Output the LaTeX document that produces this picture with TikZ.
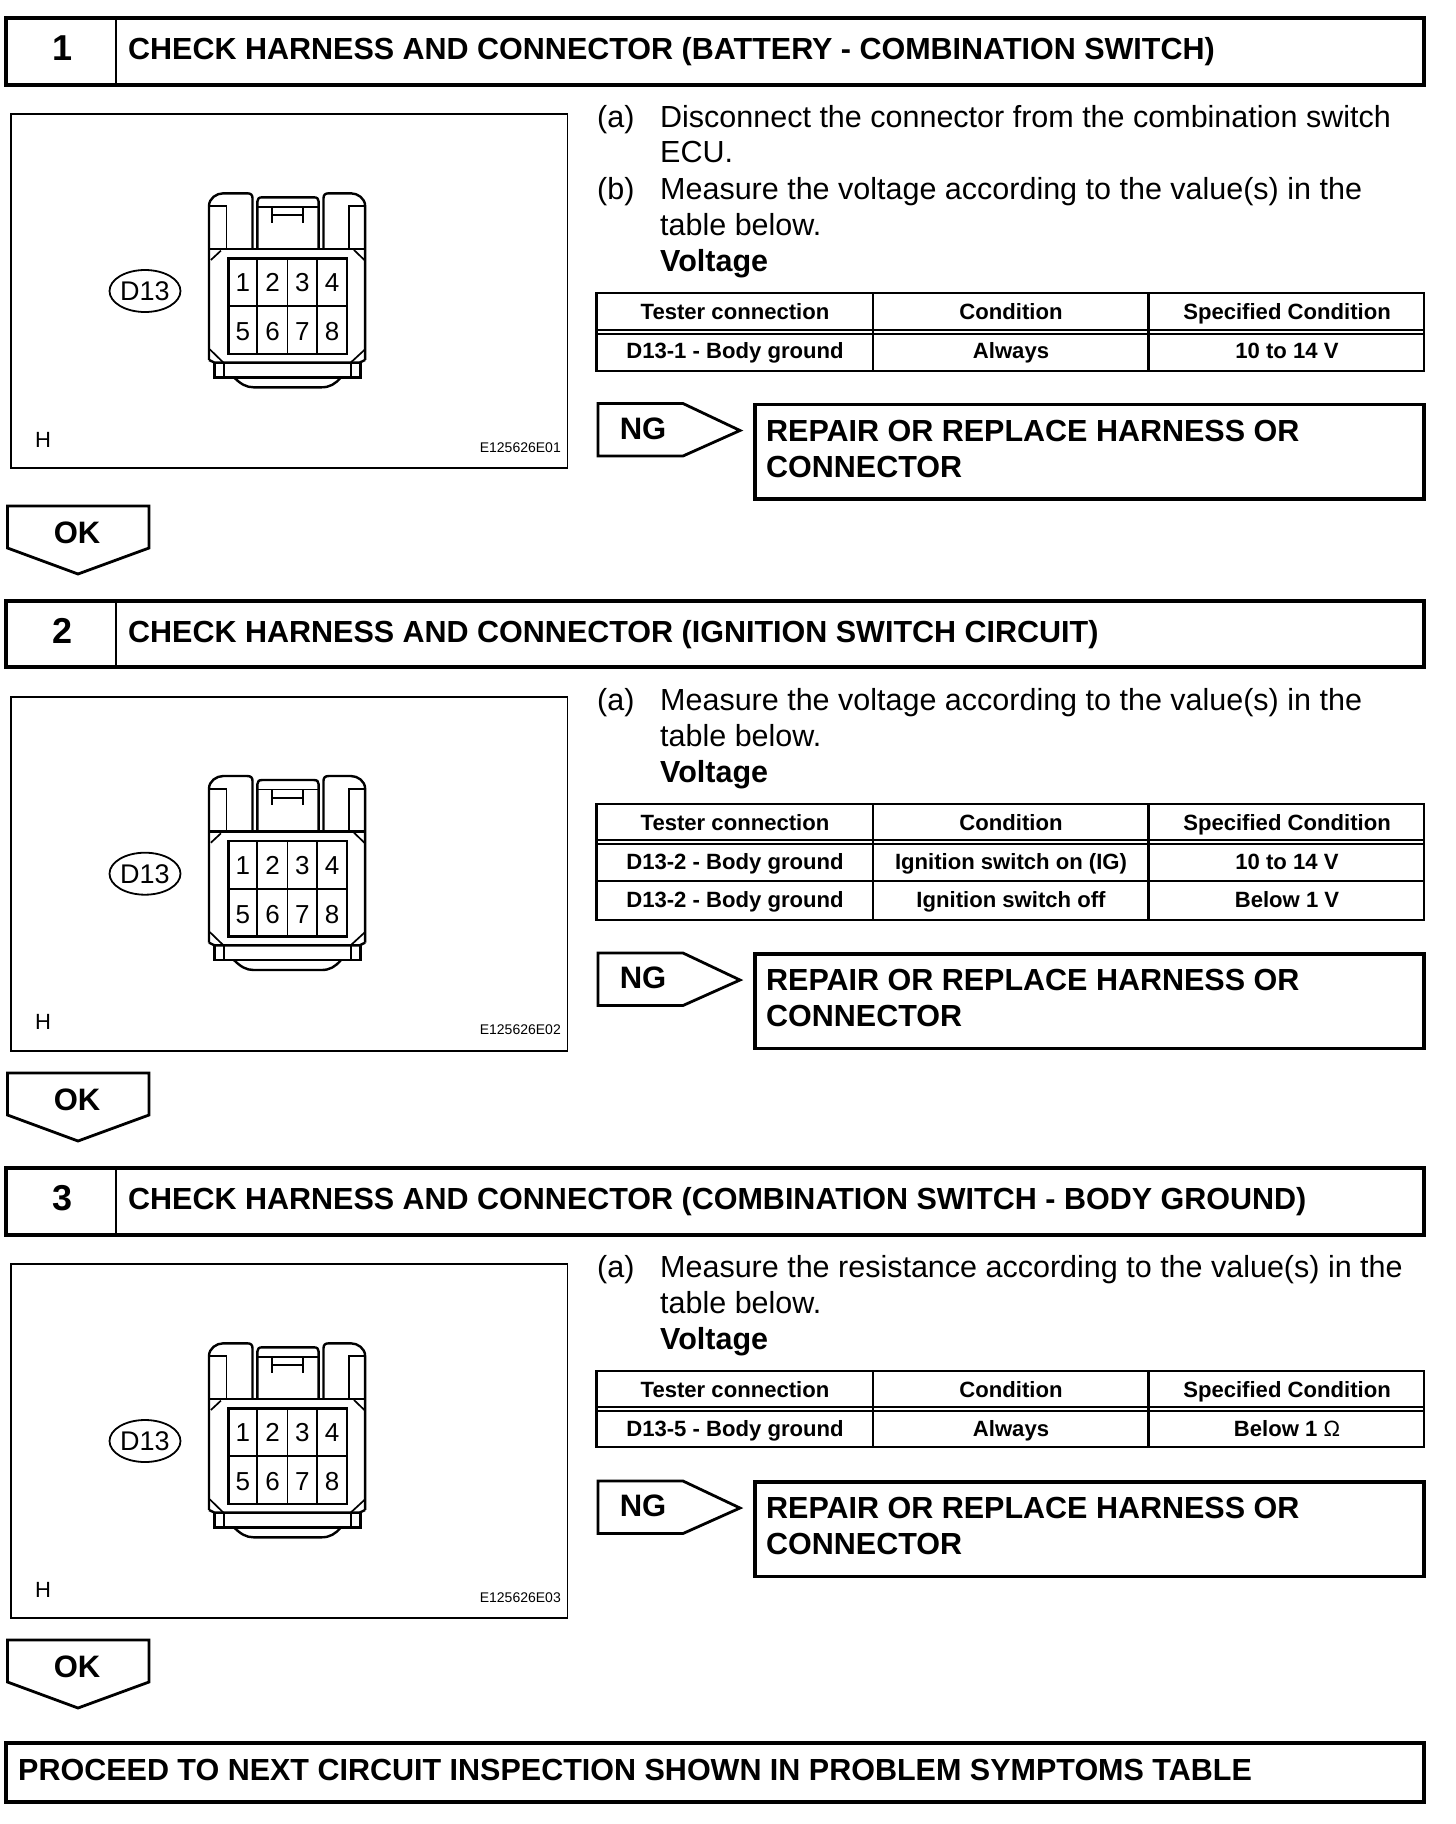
\documentclass[tikz,border=0pt]{standalone}
\usepackage{fontspec}
\setmainfont{Liberation Sans}
\usetikzlibrary{shapes.geometric}
\newcommand{\fsz}[1]{\fontsize{#1}{#1}\selectfont}
\tikzset{
  heavy/.style={draw=black,line width=3.6pt,fill=white},
  medium/.style={draw=black,line width=2.4pt,line join=miter},
  thinl/.style={draw=black,line width=1.7pt},
  hdrtext/.style={inner sep=0pt,anchor=base west,font=\fsz{30.5}\bfseries},
  numtext/.style={inner sep=0pt,anchor=base,font=\fsz{36}\bfseries},
  bodytext/.style={inner sep=0pt,anchor=base west,font=\fsz{30.5}},
  boldbody/.style={inner sep=0pt,anchor=base west,font=\fsz{30.5}\bfseries},
  celltext/.style={inner sep=0pt,anchor=base,font=\fsz{22.1}\bfseries},
  flagtext/.style={inner sep=0pt,anchor=base,font=\fsz{31}\bfseries},
  digit/.style={inner sep=0pt,anchor=base,font=\fsz{26}},
  tagtext/.style={draw=black,line width=1.8pt,ellipse,minimum width=71pt,minimum height=42pt,inner sep=0pt,font=\fsz{27}},
  hlabel/.style={inner sep=0pt,anchor=base,font=\fsz{22}},
  code/.style={inner sep=0pt,anchor=base east,font=\fsz{14}},
}
% id, top, bottom, number, title
\newcommand{\hdrbar}[5]{%
  \path[heavy] (6,#2) rectangle (1424,#3);
  \draw[medium] (116,#2) -- (116,#3);
  \node[numtext] (#1num) at (62.5,#2+42) {#4};
  \node[hdrtext] (#1title) at (128,#2+41) {#5};
}
% id, y offset, code
\newcommand{\figbox}[3]{%
  \begin{scope}[yshift=-#2pt]
  \draw[thinl] (11,114) rectangle (567.5,468);
  \node[tagtext] (#1tag) at (145,291) {D13};
  \node[hlabel] (#1h) at (43,447) {H};
  \node[code] (#1code) at (561,452) {#3};
  \begin{scope}[xshift=-1pt,yshift=-100pt,x=0.3717pt,y=-0.3333pt]
    \draw[medium,line join=round] (565,780) -- (565,318) .. controls (565,295) and (585,280) .. (603,280) -- (668,280) .. controls (678,280) and (682,285) .. (682,295) -- (682,447);
    \draw[medium,line join=round] (985,780) -- (985,318) .. controls (985,295) and (965,280) .. (947,280) -- (887,280) .. controls (877,280) and (873,285) .. (873,295) -- (873,447);
    \draw[medium,line join=round] (695,447) -- (695,305) .. controls (695,296) and (699,292) .. (708,292) -- (847,292) .. controls (856,292) and (860,296) .. (860,305) -- (860,447);
    \draw[thinl] (565,318) -- (612,318) -- (612,447);
    \draw[thinl] (985,318) -- (942,318) -- (942,447);
    \draw[thinl] (697,320) -- (858,320);
    \draw[thinl] (735,322) -- (735,368) (818,322) -- (818,368) (735,345) -- (818,345);
    \draw[medium] (565,447) -- (985,447);
    \draw[thinl] (570,480) -- (597,452) (955,450) -- (983,480);
    \draw[thinl] (567,748) -- (603,787) (985,748) -- (947,787);
    \draw[medium] (565,780) -- (580,788) -- (970,788) -- (985,780);
    \draw[medium] (580,788) -- (580,832) -- (972,832) -- (972,788);
    \draw[thinl] (605,788) -- (605,832) (947,788) -- (947,832);
    \draw[medium,line join=round] (632,832) .. controls (650,852) and (665,862) .. (685,862) -- (868,862) .. controls (890,862) and (905,852) .. (920,832);
    \draw[medium] (617,475) rectangle (937,762);
    \draw[thinl] (695,475) -- (695,762) (776,475) -- (776,762) (856,475) -- (856,762) (617,618) -- (937,618);
    \foreach \n/\cx/\cy in {1/656/574,2/736/574,3/816/574,4/896/574,5/656/721,6/736/721,7/816/721,8/896/721}
      \node[digit] (#1d\n) at (\cx,\cy) {\n};
  \end{scope}
  \end{scope}
}
% id, y offset of flag
\newcommand{\ngbox}[2]{%
  \begin{scope}[yshift=-#2pt]
  \path[heavy,line width=2.8pt,line join=miter] (598,403.5) -- (683,403.5) -- (740,430.5) -- (683,456) -- (598,456) -- cycle;
  \node[flagtext] (#1ng) at (643,439) {NG};
  \path[heavy] (755,404.5) rectangle (1424,499);
  \node[boldbody] (#1fix) at (766,441) {REPAIR OR REPLACE HARNESS OR};
  \node[boldbody] (#1fixb) at (766,477) {CONNECTOR};
  \end{scope}
}
% id, y offset
\newcommand{\okbox}[2]{%
  \begin{scope}[yshift=-#2pt]
  \path[heavy,line width=2.8pt,line join=miter] (7.5,506) -- (149,506) -- (149,548) -- (78,574) -- (7.5,548) -- cycle;
  \node[flagtext] (#1ok) at (77,543) {OK};
  \end{scope}
}
% table frame: top, head-bottom, bottom
\newcommand{\tabframe}[3]{%
  \draw[medium] (596.5,#1) rectangle (1424,#3);
  \draw[medium] (873,#1) -- (873,#3) (1148.5,#1) -- (1148.5,#3);
  \draw[line width=1.6pt] (596.5,#2-2) -- (1424,#2-2) (596.5,#2+2) -- (1424,#2+2);
}
% id, baseline, three cells
\newcommand{\tabrow}[5]{%
  \node[celltext] (#1a) at (735,#2) {#3};
  \node[celltext] (#1b) at (1011,#2) {#4};
  \node[celltext] (#1c) at (1287,#2) {#5};
}
\begin{document}
\begin{tikzpicture}[x=1pt,y=-1pt]
\useasboundingbox[fill=white] (0,0) rectangle (1456,1824);
% block 1
\hdrbar{a}{18}{85}{1}{CHECK HARNESS AND CONNECTOR (BATTERY - COMBINATION SWITCH)}
\figbox{a}{0}{E125626E01}
\node[bodytext] (a1) at (597,127) {(a)};
\node[bodytext] (a2) at (660,127) {Disconnect the connector from the combination switch};
\node[bodytext] (a3) at (660,162) {ECU.};
\node[bodytext] (a4) at (597,199) {(b)};
\node[bodytext] (a5) at (660,199) {Measure the voltage according to the value(s) in the};
\node[bodytext] (a6) at (660,235) {table below.};
\node[boldbody] (a7) at (660,271) {Voltage};
\tabframe{293}{332}{371}
\tabrow{ar1}{319}{Tester connection}{Condition}{Specified Condition}
\tabrow{ar2}{358}{D13-1 - Body ground}{Always}{10 to 14 V}
\ngbox{a}{0}
\okbox{a}{0}
% block 2
\hdrbar{b}{601}{667}{2}{CHECK HARNESS AND CONNECTOR (IGNITION SWITCH CIRCUIT)}
\figbox{b}{582.7}{E125626E02}
\node[bodytext] (b1) at (597,710) {(a)};
\node[bodytext] (b2) at (660,710) {Measure the voltage according to the value(s) in the};
\node[bodytext] (b3) at (660,746) {table below.};
\node[boldbody] (b4) at (660,782) {Voltage};
\tabframe{804}{842}{920}
\draw[medium] (596.5,881) -- (1424,881);
\tabrow{br1}{830}{Tester connection}{Condition}{Specified Condition}
\tabrow{br2}{869}{D13-2 - Body ground}{Ignition switch on (IG)}{10 to 14 V}
\tabrow{br3}{907}{D13-2 - Body ground}{Ignition switch off}{Below 1 V}
\ngbox{b}{549.5}
\okbox{b}{567}
% block 3
\hdrbar{c}{1168}{1235}{3}{CHECK HARNESS AND CONNECTOR (COMBINATION SWITCH - BODY GROUND)}
\figbox{c}{1150}{E125626E03}
\node[bodytext] (c1) at (597,1277) {(a)};
\node[bodytext] (c2) at (660,1277) {Measure the resistance according to the value(s) in the};
\node[bodytext] (c3) at (660,1313) {table below.};
\node[boldbody] (c4) at (660,1349) {Voltage};
\tabframe{1371}{1409}{1447}
\tabrow{cr1}{1397}{Tester connection}{Condition}{Specified Condition}
\tabrow{cr2}{1436}{D13-5 - Body ground}{Always}{Below 1 {\mdseries Ω}}
\ngbox{c}{1077.5}
\okbox{c}{1134}
% final
\path[heavy] (6,1743) rectangle (1424,1802);
\node[hdrtext] (endtext) at (18,1780) {PROCEED TO NEXT CIRCUIT INSPECTION SHOWN IN PROBLEM SYMPTOMS TABLE};
\end{tikzpicture}
\end{document}
